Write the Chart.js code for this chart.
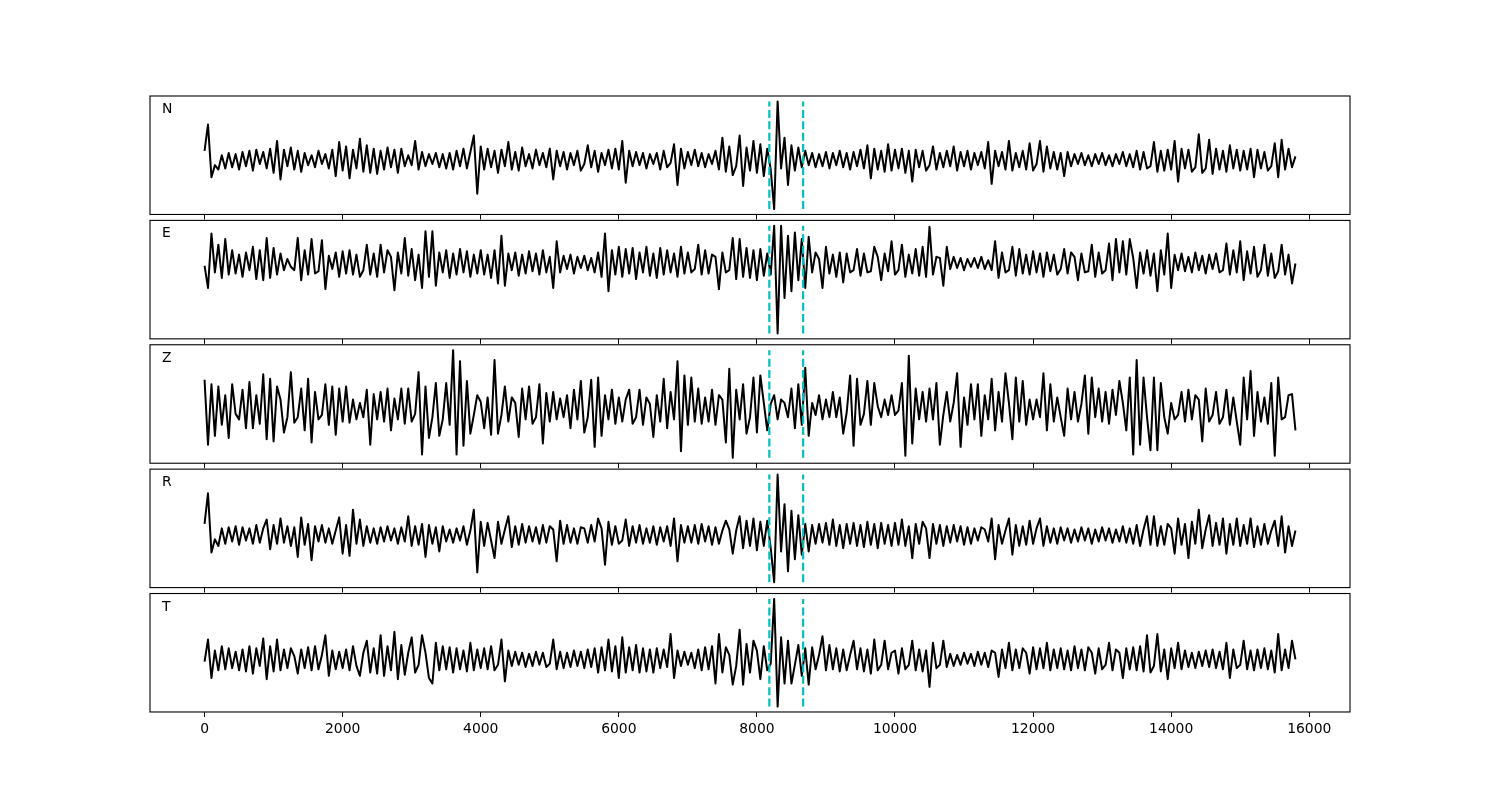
<!DOCTYPE html>
<html>
<head>
<meta charset="utf-8">
<script src="https://cdn.jsdelivr.net/npm/chart.js@4.4.1/dist/chart.umd.min.js"></script>
<style>
  body { margin: 0; background: #fff; }
  #wrap { position: relative; width: 1500px; height: 800px; overflow: hidden; }
  #wrap canvas { position: absolute; left: 0; }
  .lbl { position: absolute; font-family: "DejaVu Sans", sans-serif; font-size: 13.9px; line-height: 1; color: #000; }
</style>
</head>
<body>
<div id="wrap"></div>
<script>
// sample spacing of the traces (x units)
const step = 50;
const channels = ["N", "E", "Z", "R", "T"];

const traceN = [
  8, 32, -16, -5, -9, 4, -8, 6, -7, 5, -9, 7, -6, 8, -10, 9, -4, 7, -8, 10,
  -12, 17, -18, 9, -6, 11, -9, 8, -11, 6, -5, 4, -7, 8, -4, 5, -8, 9, -15, 16,
  -10, 12, -17, 9, -8, 19, -11, 13, -12, 10, -13, 8, -9, 11, -7, 9, -12, 10, -6, 4,
  -5, 17, -9, 7, -6, 5, -4, 6, -7, 5, -8, 6, -9, 8, -6, 10, -8, 7, 22, -31,
  12, -9, 10, -7, 8, -12, 9, -6, 16, -9, 7, -10, 11, -6, 5, -8, 9, -5, 6, -7,
  10, -18, 8, -6, 7, -9, 6, -5, 8, -10, -4, 13, -7, 8, -11, 6, -5, 9, -8, 10,
  -9, 17, -21, 8, -6, 7, -5, 6, -8, 5, -4, 6, -9, 8, -7, -3, 14, -23, 10, -8,
  7, -5, 9, -6, 6, -7, 5, -4, 8, -9, 20, -11, 12, -14, -6, 22, -24, 11, -10, 17,
  -12, 14, -15, 10, -9, -45, 53, -8, 20, -23, 13, -10, 11, -7, 8, -5, 6, -7, 5, -6,
  7, -8, 6, -5, 8, -7, 6, -9, 7, -6, 9, -8, 13, -17, 10, -9, 8, -11, 14, -10,
  9, -8, 10, -12, 8, -20, 9, -7, 8, -10, -5, 12, -9, 6, -7, 8, -6, 12, -10, 7,
  -6, 8, -9, 6, -5, 7, -8, 16, -22, 8, -6, 7, -9, 17, -10, 6, -7, 8, -9, 15,
  -10, -4, 17, -11, 12, -8, 7, -9, 6, -15, 7, -6, 5, -4, 6, -5, 4, -6, 5, -4,
  6, -5, 4, -6, 5, -4, 7, -6, 5, -7, 8, -9, 7, -8, -6, 16, -11, 8, -10, 9,
  -9, 17, -20, 10, -8, 9, -11, -7, 23, -12, -8, 18, -13, 10, -9, 8, -11, 13, -8, 9,
  -10, 8, -9, 10, -16, 9, -8, 7, -10, -6, 15, -16, 18, -9, 10, -7, 3
];

const traceE = [
  -2, -22, 27, -8, 17, -13, 22, -10, 12, -9, 8, -12, 10, -6, 15, -14, 12, -15, 23, -13,
  14, -10, 9, -6, 4, -3, -6, 23, -15, 12, -10, 22, -9, -7, 21, -23, 7, -5, 10, -12,
  11, -9, 12, -10, 8, -12, -6, 17, -10, 9, -12, 17, -8, 12, 6, -24, 10, -9, 23, -11,
  13, -15, 8, -22, 29, -12, 29, -20, 10, -8, 12, -13, 9, -10, 13, -8, 11, -12, 8, -9,
  12, -10, 8, -13, 12, -18, 25, -20, 9, -6, 10, -11, 8, -9, 11, -7, 9, -10, 12, -8,
  6, -22, 20, -8, 7, -5, 8, -9, 6, -4, 7, -6, 5, -8, 10, -12, 27, -25, 12, -10,
  15, -12, 13, -9, 14, -14, 10, -8, 15, -11, 9, -13, 14, -10, 12, -8, 9, -12, 15, -9,
  10, -8, -5, 17, -10, 12, -9, 8, 6, -23, 10, -8, -6, 23, -14, 22, -12, 14, -13, 12,
  -15, 13, -11, 9, -10, 34, -63, 34, -31, 25, -25, 28, -15, 22, -22, 24, -8, 10, 4, -22,
  15, -9, 8, -12, 10, -17, 9, -8, -6, 13, -11, 9, -8, -7, 15, 6, -15, 9, -7, 20,
  -10, -6, 17, -12, 8, -9, 13, -11, 15, -12, 33, -10, 6, 5, -20, 15, -5, 6, -4, 5,
  -6, 4, -3, 5, -4, 6, -5, 3, -6, 20, -13, 10, -8, -6, 15, -11, 13, -9, 8, -10,
  11, -8, 9, -12, 10, -7, 8, -10, -5, 13, -9, 10, 6, -15, 9, -8, -7, 17, -12, 10,
  -9, -6, 18, -15, 22, -8, 20, -10, 22, 5, -22, 10, -9, 12, -11, 9, -25, 12, -10, 27,
  -22, 8, -6, 9, -7, 6, -8, 10, -6, 7, -9, 8, -5, 9, -8, -6, 18, -10, 12, -8,
  20, -15, 11, -9, 15, -12, -6, 17, -11, 9, -13, -7, 17, -10, 8, -18, 0
];

const traceZ = [
  26, -33, 22, -25, 20, -15, 12, -27, 22, -5, -10, 17, -18, 24, -18, 12, -14, 31, -28, 27,
  -30, 20, 8, -22, -8, 33, -13, -8, 18, -20, 27, -31, 15, -10, -6, 22, -15, 20, -24, 18,
  -12, 20, -13, 8, -10, 5, -8, 17, -33, 13, -10, 15, -12, 18, -20, 9, -10, 18, -14, 18,
  -12, -5, 33, -42, 20, -27, -8, 23, -25, -10, 23, -15, 53, -42, 43, -34, 25, -23, -6, 12,
  6, -18, 10, -24, 44, -23, -6, 20, -12, 10, 5, -26, 18, -10, 20, -14, -8, 22, -32, 14,
  -12, 15, -10, 9, -8, 12, -18, 17, -10, 25, -22, -8, 26, -35, 28, -25, 12, -10, 17, -14,
  10, -12, 8, 17, -14, -8, 17, -15, 10, 4, -26, 12, -12, 27, -18, 15, -10, 43, -39, 30,
  -15, 28, -12, 18, -14, 10, -12, 17, -15, 12, 8, -31, 36, -45, 17, -10, 22, -23, -8, 28,
  -22, 30, 5, -20, 4, 12, -10, 8, 5, -8, 18, -18, 22, -15, 37, -25, 5, -6, 12, -10,
  8, -8, 15, -8, 10, -23, -4, 30, -34, 27, -15, -5, 25, -15, 23, 2, -8, 8, -6, 12,
  -6, -2, 23, -43, 48, -32, 18, -10, 15, -12, 18, -10, 23, -33, -6, 15, -12, 5, 32, -35,
  10, -15, 22, -10, 22, -25, 12, -10, 27, -20, 15, -12, 32, 5, -28, 28, -12, 25, -15, 8,
  -10, 8, -8, 32, -20, 22, -12, 10, -8, -25, 18, -10, 15, -12, 4, 30, -23, 28, -8, 18,
  -12, 15, -14, 17, -6, 25, 5, -20, 28, -42, 44, -33, 28, -8, -38, 28, -38, 23, -8, -23,
  5, -10, -6, 15, -12, 17, -10, 12, 8, -30, 18, -12, -6, 15, -14, -8, 17, -15, 10, -12,
  -33, 28, -10, 34, -25, 15, -12, 10, -14, 23, -43, 28, -10, -8, 12, 13, -20
];

const traceR = [
  10, 38, -16, -4, -10, 6, -8, 7, -6, 8, -9, 7, -5, 6, -8, 9, -7, 6, 14, -13,
  9, -8, 15, -7, 8, -10, 7, -20, 16, -9, 10, -23, 8, -6, 9, -7, 6, -8, 4, 16,
  -17, 9, -19, 23, -8, 14, -10, 8, -7, 6, -8, 7, -6, 8, -5, 6, -8, 7, -6, 17,
  -10, 8, -9, 10, -20, 9, -8, 7, -15, 8, -6, 5, -7, 6, -5, 8, -9, 4, 23, -34,
  12, -10, 11, -5, -21, 12, -8, 5, 17, -11, 8, -9, 10, -7, 8, -6, 7, -8, 9, -7,
  8, 5, -24, 13, -8, 9, -7, 6, -8, 7, 6, -7, 9, -6, 15, 6, -27, 12, -9, 8,
  -8, -5, 14, -10, 8, -7, 9, -8, 6, -7, 8, -9, 7, -6, 8, -10, 15, -24, 9, -7,
  8, -7, 9, -8, 10, -6, 8, -9, 7, -8, 4, 13, 5, -17, 4, 17, -12, 13, -10, 15,
  -14, 12, -10, 13, -12, -43, 55, -15, 28, -33, 22, -22, 18, -18, 10, -15, 9, -8, 10, -7,
  11, -9, 14, -10, 9, -12, 10, -8, 11, -10, 9, -11, 12, -9, 10, -12, 11, -8, 9, -10,
  11, -9, 14, -10, 8, -21, 10, -8, 12, 6, -21, 10, -8, 9, -10, 8, -7, 9, -6, 8,
  -9, 7, -8, 6, -5, 7, 5, -6, 15, -22, 9, -8, 4, 15, -18, 9, -10, 8, -9, 13,
  -8, 6, 15, -10, 8, -7, 6, -8, 7, -5, 6, -7, 5, -6, 7, -5, 6, -8, 5, -6,
  7, -5, 6, -7, 5, -6, 8, -7, 6, -8, 9, -10, 5, 17, -9, 17, -10, 8, -9, 10,
  6, -17, 15, -9, 10, -21, 12, -8, 23, -12, 5, 18, -10, 11, -9, 15, -17, 10, -9, 15,
  -10, 9, -8, 15, -11, 8, -9, 10, -8, 4, 13, -10, 17, -16, 8, -10, 4
];

const traceT = [
  -2, 18, -17, 8, -10, 12, -9, 10, -8, 7, -10, 9, -11, 12, -13, 10, -6, 19, -18, 12,
  -11, 18, -10, 9, -8, 10, 3, -13, 9, -8, 11, -10, 12, -9, 4, 22, -15, 8, -9, 7,
  -8, 9, -10, 12, -6, -15, 6, 17, -12, 10, -13, 22, -15, 12, -10, 25, -18, 13, -14, 6,
  20, -12, -5, 22, 6, -17, -22, 15, -10, 12, -9, 11, -12, 10, -9, 8, -11, 15, -10, 9,
  -8, 10, -9, 12, -10, -5, 18, -20, 8, -6, 7, -5, 6, -7, 5, -6, 7, -5, 6, -7,
  -4, 18, -9, 7, -8, 6, -7, 8, -6, 7, -8, 9, -7, 10, -12, 11, -10, 18, -11, 12,
  -17, 20, -12, 11, -10, 13, -12, 10, -11, 9, -12, 10, -8, 9, -7, 23, -17, 8, -6, 7,
  -5, 6, -8, 9, -10, 11, -9, 12, -22, 23, -12, 11, 4, -23, -6, 27, -23, 14, -12, 17,
  8, -18, 12, -10, -4, 55, -43, 20, -22, 17, -22, -5, 13, -15, 10, -23, 11, -9, 4, 21,
  -10, 13, -9, 10, -11, 9, -10, 4, 17, -9, 10, -11, 9, -13, 18, -10, -5, 17, -9, 6,
  8, -13, 10, -9, -5, 17, -10, 9, -11, 8, -25, 15, -8, -5, 17, -7, 5, -6, 4, -5,
  6, -4, 5, -6, 7, -5, 6, -7, 8, 6, -16, 9, -8, 15, -10, 9, -8, 10, 6, -13,
  11, -9, 10, -8, 15, -10, 9, -8, 10, -9, 8, -10, 12, -8, 9, -10, 11, 6, -13, 10,
  -9, -5, 15, -10, 9, 6, -17, 10, -9, 11, -10, 12, -11, 22, -12, -6, 23, -11, 9, -18,
  10, -8, 15, -9, 8, -7, 6, -8, 7, -6, 8, -7, 9, -8, 7, -9, 15, -17, 9, -8,
  -5, 17, -9, 8, -10, 9, -8, 10, -9, 8, -12, 23, -10, 9, -8, 17, 0
];

// picked arrival times (dashed markers)
const picks = [8180, 8670];
const xTicks = [0, 2000, 4000, 6000, 8000, 10000, 12000, 14000, 16000];

const traces = [traceN, traceE, traceZ, traceR, traceT];

Chart.defaults.font.family = "'DejaVu Sans', sans-serif";
Chart.defaults.color = "#000";

const wrap = document.getElementById("wrap");
const panelTop = 96, panelH = 118.46, panelGap = 5.92, axisRoom = 30;
const xEnd = (traceN.length - 1) * step;
const xPad = xEnd * 0.05;

const framePlugin = {
  id: "frame",
  afterDraw(chart) {
    const a = chart.chartArea, ctx = chart.ctx;
    ctx.save();
    ctx.strokeStyle = "#000";
    ctx.lineWidth = 1.1;
    ctx.strokeRect(a.left, a.top, a.right - a.left, a.bottom - a.top);
    ctx.restore();
  }
};

traces.forEach((trace, i) => {
  const top = panelTop + i * (panelH + panelGap);
  const canvasTop = Math.floor(top) - 4;
  const padTop = top - canvasTop;
  const h = Math.ceil(padTop + panelH + axisRoom);

  const cv = document.createElement("canvas");
  cv.width = 1500;
  cv.height = h;
  cv.style.top = canvasTop + "px";
  wrap.appendChild(cv);

  const lbl = document.createElement("div");
  lbl.className = "lbl";
  lbl.textContent = channels[i];
  lbl.style.left = "162px";
  lbl.style.top = (top + 6) + "px";
  wrap.appendChild(lbl);

  const lo = Math.min(...trace), hi = Math.max(...trace);
  const span = hi - lo;
  const isLast = i === traces.length - 1;

  new Chart(cv, {
    type: "line",
    data: {
      datasets: [
        ...picks.map(p => ({
          data: [{ x: p, y: lo }, { x: p, y: hi }],
          borderColor: "#00bfbf",
          borderWidth: 2.2,
          borderDash: [8, 3.4],
          pointRadius: 0,
          order: 0
        })),
        {
          data: trace.map((v, k) => ({ x: k * step, y: v })),
          borderColor: "#000",
          borderWidth: 2,
          borderJoinStyle: "round",
          pointRadius: 0,
          tension: 0,
          order: 1
        }
      ]
    },
    options: {
      responsive: false,
      animation: false,
      devicePixelRatio: 1,
      events: [],
      layout: { padding: { left: 150, right: 150, top: padTop, bottom: 0 } },
      plugins: { legend: { display: false }, tooltip: { enabled: false } },
      scales: {
        x: {
          type: "linear",
          min: -xPad,
          max: xEnd + xPad,
          afterBuildTicks: s => { s.ticks = xTicks.map(v => ({ value: v })); },
          afterFit: s => { s.height = h - padTop - panelH; },
          border: { display: false },
          grid: { drawOnChartArea: false, drawTicks: true, tickLength: 5, color: "#000", lineWidth: 1 },
          ticks: {
            display: isLast,
            autoSkip: false,
            maxRotation: 0,
            padding: 4,
            color: "#000",
            font: { size: 13.9 },
            callback: v => String(v)
          }
        },
        y: {
          display: false,
          min: lo - span * 0.05,
          max: hi + span * 0.05
        }
      }
    },
    plugins: [framePlugin]
  });
});
</script>
</body>
</html>
